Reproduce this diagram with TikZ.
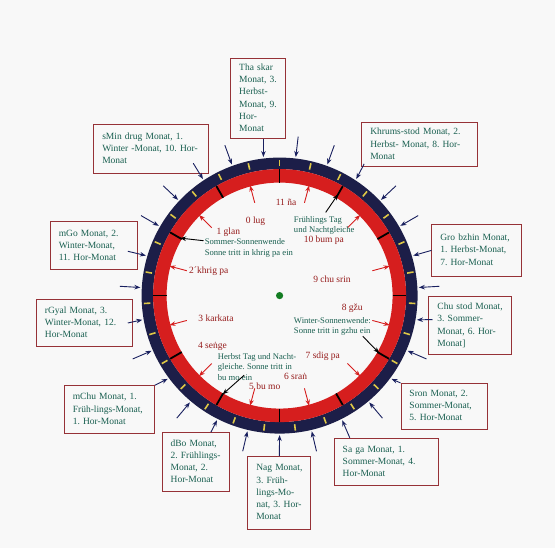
\documentclass[tikz,border=0pt]{standalone}
\usepackage{fontspec}
\setmainfont{Liberation Serif}
\usetikzlibrary{arrows.meta,calc}
\definecolor{navy}{RGB}{28,30,72}
\definecolor{ringred}{RGB}{214,30,30}
\definecolor{tickyel}{RGB}{222,200,70}
\definecolor{boxred}{RGB}{150,50,55}
\definecolor{tealtxt}{RGB}{25,95,80}
\definecolor{labred}{RGB}{150,28,28}
\definecolor{arrblue}{RGB}{25,32,95}
\definecolor{dotgreen}{RGB}{20,125,35}
\definecolor{bgc}{RGB}{248,248,248}
\newcommand\ndt{\ooalign{n\cr\hidewidth\char"02D9\hidewidth\cr}}
\newcommand\tl[1]{\begin{tabular}{@{}l@{}}#1\end{tabular}}
\begin{document}
\frenchspacing
\begin{tikzpicture}[x=1pt,y=1pt,
 mbox/.style={draw=boxred, line width=0.9pt, text=tealtxt, font=\fontsize{9.5}{12.2}\selectfont\frenchspacing, align=left, inner xsep=0pt, inner ysep=0pt},
 lab/.style={text=labred, font=\fontsize{9.5}{11}\selectfont, inner sep=0pt},
 gtxt/.style={text=tealtxt, font=\fontsize{8.6}{10.7}\selectfont\frenchspacing, align=left, inner sep=0pt, anchor=west},
 barr/.style={draw=arrblue, line width=0.9pt, -{Stealth[length=6pt,width=4.5pt]}},
 rarr/.style={draw=ringred, line width=0.9pt, -{Stealth[length=6pt,width=4.5pt]}},
 karr/.style={draw=black, line width=0.9pt, -{Stealth[length=6pt,width=4.5pt]}},
]
\fill[bgc] (-279.6,-252.4) rectangle (275.4,295.6);
\useasboundingbox (-279.6,-252.4) rectangle (275.4,295.6);

% rings
\fill[navy, even odd rule] (0,0) circle[radius=138] circle[radius=126.5];
\fill[ringred, even odd rule] (0,0) circle[radius=126.5] circle[radius=113];
\foreach \k in {0,...,26} \draw[tickyel, line width=1.6pt] ({90+\k*40/3}:129.5) -- ({90+\k*40/3}:136);
\foreach \k in {0,...,11} \draw[black, line width=1.8pt] ({90+30*\k}:113) -- ({90+30*\k}:126.5);
\node[circle, fill=dotgreen, minimum size=7.2pt, inner sep=0pt] (ctr) at (0,0) {};

% coordinates
\foreach \k in {0,...,26} {
  \coordinate (t\k) at ({96.6667+\k*40/3}:139.5);
  \coordinate (f\k) at ({96.6667+\k*40/3}:160);
}
\foreach \k in {0,...,11} {
  \coordinate (rs\k) at ({15+30*\k}:96);
  \coordinate (re\k) at ({15+30*\k}:114);
  \draw[rarr] (rs\k) -- (re\k);
}
\coordinate (kfe) at (60:117);
\coordinate (kse) at (150:115);
\coordinate (kwe) at (-30:115);
\coordinate (khe) at (240:114);

\begin{scope}[shift={(-279.6,295.6)}, yscale=-1]
% boxes
\node[mbox, minimum width=54.5pt, minimum height=80.4pt, text width=37.5pt] (tha) at (258,98.6) {\tl{Tha skar\\Monat, 3.\\Herbst-\\Monat, 9.\\Hor-\\Monat}};
\node[mbox, minimum width=115pt, minimum height=49pt, text width=98pt] (smin) at (151.3,149) {\tl{sMin drug Monat, 1.\\Winter -Monat, 10. Hor-\\Monat}};
\node[mbox, minimum width=115.4pt, minimum height=43.6pt, text width=98.4pt] (khr) at (419.5,144.6) {\tl{Khrums-stod Monat, 2.\\Herbst- Monat, 8. Hor-\\Monat}};
\node[mbox, minimum width=87pt, minimum height=47.7pt, text width=70pt] (mgo) at (93.8,245.8) {\tl{mGo Monat, 2.\\Winter-Monat,\\11. Hor-Monat}};
\node[mbox, minimum width=89.5pt, minimum height=51.3pt, text width=72.5pt] (gro) at (476.6,250.4) {\tl{Gro bzhin Monat,\\1. Herbst-Monat,\\7. Hor-Monat}};
\node[mbox, minimum width=95.9pt, minimum height=47.8pt, text width=78.9pt] (rgyal) at (84.4,323) {\tl{rGyal Monat, 3.\\Winter-Monat, 12.\\Hor-Monat}};
\node[mbox, minimum width=82.5pt, minimum height=58.1pt, text width=65.5pt] (chu) at (470.2,325.6) {\tl{Chu stod Monat,\\3. Sommer-\\Monat, 6. Hor-\\Monat]}};
\node[mbox, minimum width=89.9pt, minimum height=47.8pt, text width=72.9pt] (mchu) at (109.3,409.7) {\tl{mChu Monat, 1.\\Früh-lings-Monat,\\1. Hor-Monat}};
\node[mbox, minimum width=86.8pt, minimum height=45.6pt, text width=69.8pt] (sron) at (444.4,406.2) {\tl{Sron Monat, 2.\\Sommer-Monat,\\5. Hor-Monat}};
\node[mbox, minimum width=67.3pt, minimum height=58.7pt, text width=50.3pt] (dbo) at (195.8,462) {\tl{dBo Monat,\\2. Frühlings-\\Monat, 2.\\Hor-Monat}};
\node[mbox, minimum width=104.7pt, minimum height=47.5pt, text width=87.7pt] (saga) at (386.6,462) {\tl{Sa ga Monat, 1.\\Sommer-Monat, 4.\\Hor-Monat}};
\node[mbox, minimum width=63pt, minimum height=72.6pt, text width=46pt] (nag) at (279.3,492.9) {\tl{Nag Monat,\\3. Früh-\\lings-Mo-\\nat, 3. Hor-\\Monat}};

% red labels
\node[lab] (l11) at (286,202.5) {11 ña};
\node[lab] (l0) at (255.6,221.2) {0 lug};
\node[lab] (l1) at (228.3,232.2) {1 glan};
\node[lab] (l2) at (208.8,270.8) {2´khrig pa};
\node[lab] (l3) at (216,318.6) {3 karkata};
\node[lab] (l4) at (212.4,346.9) {4 se\ndt{}ge};
\node[lab] (l5) at (264.8,386.5) {5 bu mo};
\node[lab] (l6) at (295.6,376) {6 sra\ndt{}};
\node[lab] (l7) at (322.8,356.5) {7 sdig pa};
\node[lab] (l8) at (352.2,308.7) {8 gžu};
\node[lab] (l9) at (332,279.6) {9 chu srin};
\node[lab] (l10) at (323.9,240.7) {10 bum pa};

% green notes
\node[gtxt] (fr) at (293.8,225.5) {Frühlings Tag\\und Nachtgleiche};
\node[gtxt] (so) at (204.6,248.2) {Sommer-Sonnenwende\\Sonne tritt in khrig pa ein};
\node[gtxt] (wi) at (293.8,326.4) {Winter-Sonnenwende:\\Sonne tritt in gzhu ein};
\node[gtxt] (he) at (217.7,367) {Herbst Tag und Nacht-\\gleiche. Sonne tritt in\\bu mo ein};

\coordinate (kfs) at (325.7,212.4);
\coordinate (kss) at (203.5,240.7);
\coordinate (kws) at (362.8,336.3);
\coordinate (khs) at (244.2,375.2);
\end{scope}

% black arrows
\draw[karr] (kfs) -- (kfe);
\draw[karr] (kss) -- (kse);
\draw[karr] (kws) -- (kwe);
\draw[karr] (khs) -- (khe);

% blue arrows (free)
\foreach \k in {1,3,4,6,8,10,12,14,16,18,20,22,23,25,26} \draw[barr] (f\k) -- (t\k);
% blue arrows from boxes
\draw[barr] (tha.south -| t0) -- (t0);
\draw[barr] ($(smin.south east)+(-16,10.7)$) -- (t2);
\draw[barr] ($(mgo.east)+(-9.9,-5.5)$) -- (t5);
\draw[barr] ($(rgyal.east)+(-5,0)$) -- (t7);
\draw[barr] (mchu.north east) -- (t9);
\draw[barr] ($(dbo.north east)+(-19,0)$) -- (t11);
\draw[barr] (nag.north) -- (t13);
\draw[barr] ($(saga.north west)+(16,0)$) -- (t15);
\draw[barr] (sron.north west) -- (t17);
\draw[barr] ($(chu.west)+(4,6)$) -- (t19);
\draw[barr] (gro.west) -- (t21);
\draw[barr] ($(khr.south west)+(2.8,2.9)$) -- (t24);
\end{tikzpicture}
\end{document}
